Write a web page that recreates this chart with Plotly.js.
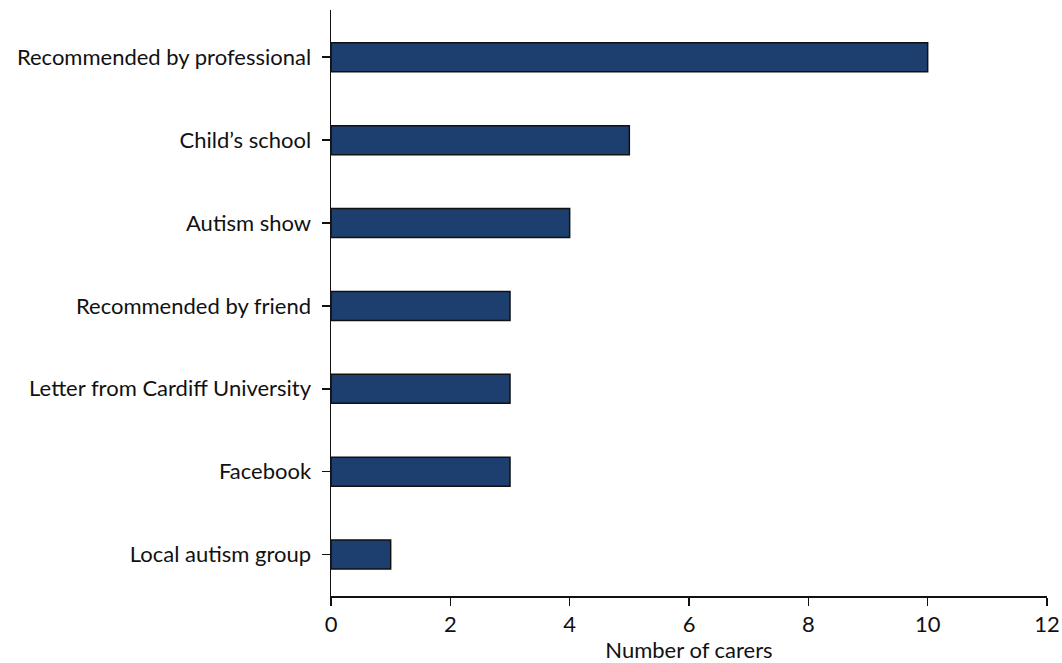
<!DOCTYPE html>
<html>
<head>
<meta charset="utf-8">
<script src="https://cdn.plot.ly/plotly-3.0.1.min.js"></script>
<style>html,body{margin:0;padding:0;background:#fff;}#chart{width:1062px;height:663px;}</style>
</head>
<body>
<div id="chart"></div>
<script>
const categories = ["Local autism group", "Facebook", "Letter from Cardiff University", "Recommended by friend", "Autism show", "Child\u2019s school", "Recommended by professional"];
const carers = [1, 3, 3, 3, 4, 5, 10];
const xTicks = [0, 2, 4, 6, 8, 10, 12];

const trace = {
  type: "bar",
  orientation: "h",
  y: categories,
  x: carers,
  width: 0.35,
  marker: {color: "#1d3f6f", line: {color: "#111111", width: 1.5}},
  hoverinfo: "x+y"
};

const layout = {
  width: 1062, height: 663,
  margin: {l: 331, r: 15, t: 10, b: 67},
  paper_bgcolor: "#fff", plot_bgcolor: "#fff",
  font: {family: "Lato, sans-serif", size: 22, color: "#111"},
  showlegend: false,
  xaxis: {
    range: [0, 12], tickvals: xTicks, ticktext: xTicks.map(String),
    showgrid: false, zeroline: false,
    showline: true, linecolor: "#111", linewidth: 1.5,
    ticks: "outside", ticklen: 8, tickwidth: 1.5, tickcolor: "#111",
    tickfont: {size: 22},
    title: {text: "Number of carers", font: {size: 22}, standoff: 6}
  },
  yaxis: {
    range: [-0.5, 6.57],
    showgrid: false, zeroline: false,
    showline: true, linecolor: "#111", linewidth: 1.5,
    ticks: "outside", ticklen: 8, tickwidth: 1.5, tickcolor: "#111",
    tickfont: {size: 22}, ticklabelstandoff: 6
  }
};

Plotly.newPlot("chart", [trace], layout, {displayModeBar: false, staticPlot: true});
</script>
</body>
</html>
